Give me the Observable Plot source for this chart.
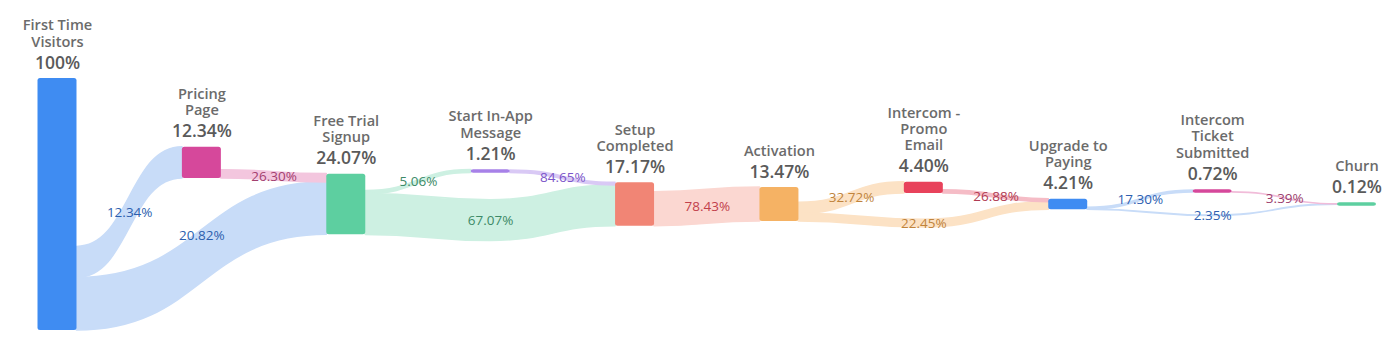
<!DOCTYPE html>
<html><head><meta charset="utf-8">
<script src="https://cdn.jsdelivr.net/npm/d3@7"></script>
<script src="https://cdn.jsdelivr.net/npm/@observablehq/plot@0.6"></script>
<style>body{margin:0;background:#fff;}</style>
</head><body><div id="chart"></div>
<script>
// ---- data ----
const stageNames = ["First Time\nVisitors", "Pricing\nPage", "Free Trial\nSignup", "Start In-App\nMessage", "Setup\nCompleted", "Activation", "Intercom -\nPromo\nEmail", "Upgrade to\nPaying", "Intercom\nTicket\nSubmitted", "Churn"];
const stageValues = [100, 12.34, 24.07, 1.21, 17.17, 13.47, 4.40, 4.21, 0.72, 0.12];
const stageKinds = ["step", "touchpoint", "step", "touchpoint", "step", "step", "touchpoint", "step", "touchpoint", "step"];
const linkSources = [0, 0, 1, 2, 2, 3, 4, 5, 5, 6, 7, 7, 8];
const linkTargets = [1, 2, 2, 3, 4, 4, 5, 6, 7, 7, 8, 9, 9];
const linkRates = [12.34, 20.82, 26.30, 5.06, 67.07, 84.65, 78.43, 32.72, 22.45, 26.88, 17.30, 2.35, 3.39];

// ---- styles ----
const nodeColors = ["#3f8cf2", "#d6489b", "#5dcfa0", "#a781e8", "#f18575", "#f5b264", "#e8425b", "#3f8cf2", "#d6489b", "#5dcfa0"];
const linkColors = ["#c8dcf8", "#f3c6de", "#cdf0e2", "#d9c9f5", "#fbd7d1", "#fce2c5", "#f5bcc6", "#c8dcf8", "#f1bcd9"];
const labelColors = ["#2d5fae", "#a3406f", "#3d8a67", "#7b55c9", "#c2414b", "#c0843c", "#b03a52", "#2f5fb0", "#9c3f6e"];

// ---- layout rules ----
const PX = 2.52;          // pixels per percentage point
const nodeHalfW = 0.135;  // half node width in stage units
const sideGap = 4.5;      // gap of touchpoint nodes above next step
const minH = 1.35;        // minimum visible node height
const dip = 2.4;          // dip of links that pass under a touchpoint

const nodes = stageNames.map((name, i) => ({i, name, value: stageValues[i], kind: stageKinds[i]}));
nodes.forEach(n => { if (n.kind === "step") n.c = 0; });
nodes.forEach((n, i) => {
  if (n.kind !== "step") {
    const next = nodes.slice(i + 1).find(m => m.kind === "step");
    n.c = next.c + Math.max(next.value, minH) / 2 + sideGap;
  }
});
nodes.forEach(n => { n.h = Math.max(n.value, minH); n.top = n.c + n.h / 2; n.bottom = n.c - n.h / 2; n.x1 = n.i - nodeHalfW; n.x2 = n.i + nodeHalfW; n.color = nodeColors[n.i]; });

const links = linkSources.map((s, k) => ({k, s, t: linkTargets[k], rate: linkRates[k], value: stageValues[s] * linkRates[k] / 100}));
nodes.forEach(n => {
  const out = links.filter(l => l.s === n.i).sort((a, b) => a.t - b.t);
  const total = d3.sum(out, l => l.value);
  let y = n.c - n.value / 2 + total;
  out.forEach(l => { l.sy0 = y; l.sy1 = y - l.value; y -= l.value; });
  const inn = links.filter(l => l.t === n.i).sort((a, b) => b.s - a.s);
  let y2 = n.c + n.value / 2;
  inn.forEach(l => { l.ty0 = y2; l.ty1 = y2 - l.value; y2 -= l.value; });
});

const pts = [];
links.forEach(l => {
  const src = {x: l.s + nodeHalfW, y1: l.sy0, y2: l.sy1};
  const tgt = {x: l.t - nodeHalfW, y1: l.ty0, y2: l.ty1};
  const sc = (l.sy0 + l.sy1) / 2, tc = (l.ty0 + l.ty1) / 2;
  const arr = [src];
  l.labelX = (src.x + tgt.x) / 2; l.labelY = (sc + tc) / 2;
  if (l.t - l.s > 1 && Math.abs(sc - tc) * PX < 30) {
    const wc = Math.min(sc, tc) - dip;
    for (let j = l.s + 1; j < l.t; j++) arr.push({x: j, y1: wc + l.value / 2, y2: wc - l.value / 2});
    l.labelX = l.s + 1; l.labelY = wc;
  } else if (l.t - l.s > 1) {
    // steep long links: label sits in the upper half of the band
    l.labelY = (l.sy0 + l.ty0) / 2 - 2;
  }
  arr.push(tgt);
  l.labelText = l.rate.toFixed(2) + "%";
  l.labelColor = labelColors[l.s];
  arr.forEach(p => pts.push({...p, k: l.k, color: linkColors[l.s]}));
});
nodes.forEach(n => { n.valueText = Number.isInteger(n.value) ? n.value + "%" : n.value.toFixed(2) + "%"; });

const chart = Plot.plot({
  width: 1398, height: 362,
  marginLeft: 57, marginRight: 41.5, marginTop: 0, marginBottom: 0,
  x: {domain: [0, 9], axis: null},
  y: {domain: [-158 / PX, 204 / PX], axis: null},
  color: {type: "identity"},
  style: {fontFamily: "'Open Sans', sans-serif", background: "#fff"},
  marks: [
    Plot.area(pts, {x1: "x", y1: "y1", y2: "y2", z: "k", fill: "color", stroke: "color", strokeWidth: 1.6, curve: "bump-x"}),
    Plot.rect(nodes, {x1: "x1", x2: "x2", y1: "bottom", y2: "top", fill: "color", rx: 2.5}),
    Plot.text(links, {x: "labelX", y: "labelY", text: "labelText", fill: "labelColor", fontSize: 13.5, fontWeight: 500}),
    Plot.text(nodes, {x: "i", y: "top", text: "name", dy: -32, lineAnchor: "bottom", lineHeight: 1.12, fontSize: 14.6, fontWeight: 600, fill: "#6b6b6b"}),
    Plot.text(nodes, {x: "i", y: "top", text: "valueText", dy: -10, lineAnchor: "bottom", fontSize: 17.5, fontWeight: 600, fill: "#5a5a5a"})
  ]
});
document.getElementById("chart").appendChild(chart);
</script>
</body></html>
